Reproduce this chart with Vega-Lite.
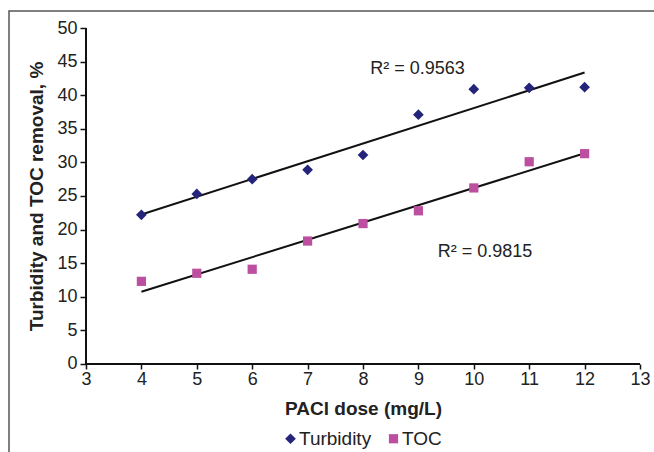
{
  "$schema": "https://vega.github.io/schema/vega-lite/v6.json",
  "width": 660,
  "height": 460,
  "autosize": {"type": "none"},
  "padding": {"left": 9, "top": 11, "right": -15, "bottom": -19},
  "background": "white",
  "config": {"font": "Liberation Sans", "view": {"stroke": "#555555", "strokeWidth": 1.5}},
  "datasets": {
    "pts": [
      {"dose": 4, "series": "Turbidity", "removal": 22.2},
      {"dose": 5, "series": "Turbidity", "removal": 25.3},
      {"dose": 6, "series": "Turbidity", "removal": 27.5},
      {"dose": 7, "series": "Turbidity", "removal": 28.9},
      {"dose": 8, "series": "Turbidity", "removal": 31.1},
      {"dose": 9, "series": "Turbidity", "removal": 37.1},
      {"dose": 10, "series": "Turbidity", "removal": 40.9},
      {"dose": 11, "series": "Turbidity", "removal": 41.1},
      {"dose": 12, "series": "Turbidity", "removal": 41.2},
      {"dose": 4, "series": "TOC", "removal": 12.3},
      {"dose": 5, "series": "TOC", "removal": 13.5},
      {"dose": 6, "series": "TOC", "removal": 14.1},
      {"dose": 7, "series": "TOC", "removal": 18.3},
      {"dose": 8, "series": "TOC", "removal": 20.9},
      {"dose": 9, "series": "TOC", "removal": 22.8},
      {"dose": 10, "series": "TOC", "removal": 26.2},
      {"dose": 11, "series": "TOC", "removal": 30.1},
      {"dose": 12, "series": "TOC", "removal": 31.3}
    ],
    "axisLines": [
      {"dose": 3, "removal": 0, "dose2": 13, "removal2": 0},
      {"dose": 3, "removal": 0, "dose2": 3, "removal2": 50}
    ],
    "notes": [
      {"dose": 8.13, "removal": 43.9, "label": "R² = 0.9563"},
      {"dose": 9.35, "removal": 16.6, "label": "R² = 0.9815"}
    ]
  },
  "encoding": {
    "x": {
      "field": "dose", "type": "quantitative",
      "scale": {"domain": [1.6101, 13.5235], "nice": false, "zero": false},
      "axis": {
        "values": [3, 4, 5, 6, 7, 8, 9, 10, 11, 12, 13],
        "domain": false, "grid": false, "offset": -107,
        "tickSize": 5, "tickColor": "#111111", "tickWidth": 1.5,
        "labelFontSize": 18, "labelColor": "#222222", "labelPadding": 1,
        "labelFlush": false, "labelOverlap": false, "labelBound": false,
        "title": "PACl dose (mg/L)", "titleFontSize": 19, "titleFontWeight": "bold",
        "titleColor": "#222222", "titleX": 354, "titleY": 44, "titleBaseline": "middle", "titleAlign": "center"
      }
    },
    "y": {
      "field": "removal", "type": "quantitative",
      "scale": {"domain": [-15.923, 52.53], "nice": false, "zero": false},
      "axis": {
        "values": [0, 5, 10, 15, 20, 25, 30, 35, 40, 45, 50],
        "domain": false, "grid": false, "offset": -77,
        "tickSize": 6, "tickColor": "#111111", "tickWidth": 1.5,
        "labelFontSize": 18, "labelColor": "#222222", "labelPadding": 3,
        "labelFlush": false, "labelOverlap": false, "labelBound": false,
        "title": "Turbidity and TOC removal, %", "titleFontSize": 19, "titleFontWeight": "bold",
        "titleColor": "#222222", "titleX": -50, "titleY": 185, "titleAngle": -90,
        "titleBaseline": "middle", "titleAlign": "center"
      }
    }
  },
  "layer": [
    {
      "data": {"name": "axisLines"},
      "mark": {"type": "rule", "color": "#111111", "strokeWidth": 2},
      "encoding": {"x2": {"field": "dose2"}, "y2": {"field": "removal2"}}
    },
    {
      "data": {"name": "pts"},
      "transform": [{"regression": "removal", "on": "dose", "groupby": ["series"], "extent": [4, 12]}],
      "mark": {"type": "line", "color": "#111111", "strokeWidth": 2},
      "encoding": {"detail": {"field": "series", "type": "nominal"}}
    },
    {
      "data": {"name": "pts"},
      "mark": {"type": "point", "filled": true, "opacity": 1},
      "encoding": {
        "color": {
          "field": "series", "type": "nominal",
          "scale": {"domain": ["Turbidity", "TOC"], "range": ["#23247A", "#BC4F9F"]},
          "legend": {"title": null, "orient": "none", "legendX": 272, "legendY": 418, "direction": "horizontal",
            "labelFontSize": 19, "labelColor": "#222222", "labelOffset": -1, "columnPadding": 12}
        },
        "shape": {
          "field": "series", "type": "nominal",
          "scale": {"domain": ["Turbidity", "TOC"], "range": ["diamond", "square"]},
          "legend": {"title": null, "orient": "none", "legendX": 272, "legendY": 418, "direction": "horizontal",
            "labelFontSize": 19, "labelColor": "#222222", "labelOffset": -1, "columnPadding": 12}
        },
        "size": {
          "field": "series", "type": "nominal",
          "scale": {"domain": ["Turbidity", "TOC"], "range": [115, 85]},
          "legend": {"title": null, "orient": "none", "legendX": 272, "legendY": 418, "direction": "horizontal",
            "labelFontSize": 19, "labelColor": "#222222", "labelOffset": -1, "columnPadding": 12}
        }
      }
    },
    {
      "data": {"name": "notes"},
      "mark": {"type": "text", "align": "left", "baseline": "middle", "fontSize": 18, "color": "#222222"},
      "encoding": {"text": {"field": "label"}}
    }
  ]
}
